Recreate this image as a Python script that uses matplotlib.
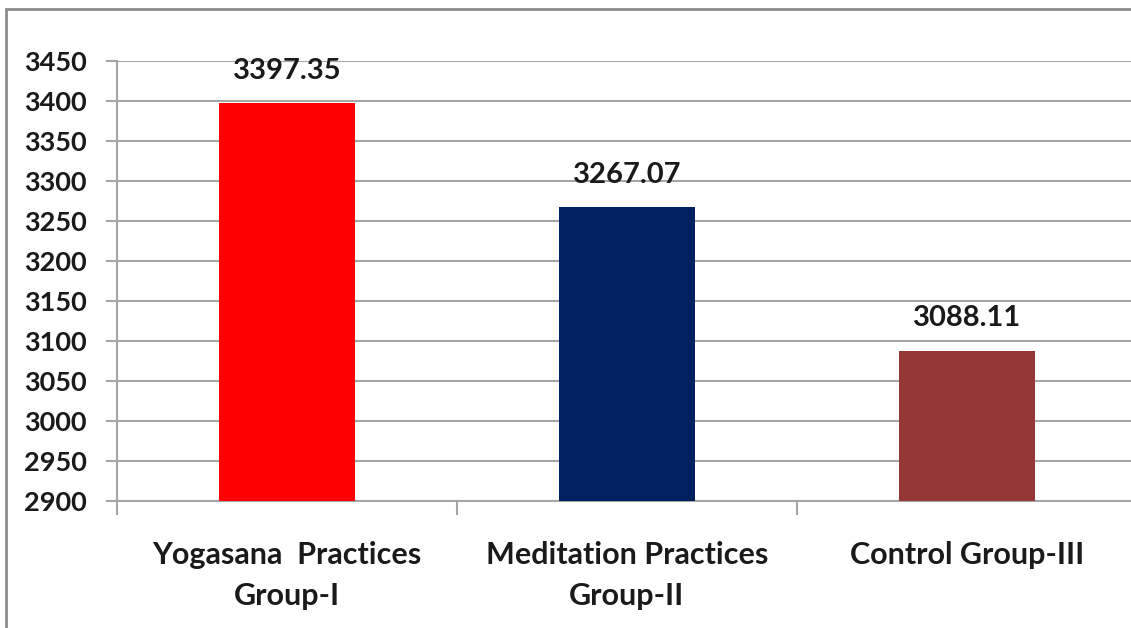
import matplotlib
matplotlib.use('Agg')
import matplotlib.pyplot as plt
from matplotlib.patches import Rectangle

categories = ['Yogasana  Practices\nGroup-I', 'Meditation Practices\nGroup-II', 'Control Group-III']
values = [3397.35, 3267.07, 3088.11]
value_labels = ['3397.35', '3267.07', '3088.11']
bar_colors = ['#FF0000', '#002060', '#953735']
y_ticks = list(range(2900, 3451, 50))

plt.rcParams['font.family'] = ['Lato', 'DejaVu Sans']

fig = plt.figure(figsize=(11.31, 6.28), dpi=100)
fig.patch.set_facecolor('white')

# outer chart border (cropped on right/bottom)
fig.patches.append(Rectangle((6 / 1131, -0.1), 1.2, (628 - 9) / 628 + 0.1,
                             transform=fig.transFigure, fill=False,
                             edgecolor='#8C8C8C', lw=2, zorder=0))

ax = fig.add_axes([117 / 1131, 127 / 628, 1020 / 1131, 440 / 628])
ax.set_xlim(-0.5, 2.5)
ax.set_ylim(2900, 3450)

x = range(len(values))
ax.bar(x, values, width=0.4, color=bar_colors, zorder=3)

for xi, v, lab in zip(x, values, value_labels):
    ax.annotate(lab, (xi, v), xytext=(0, 14), textcoords='offset points',
                ha='center', va='bottom', fontsize=21, fontweight='bold',
                color='#1A1A1A')

ax.set_yticks(y_ticks)
ax.set_yticklabels([str(t) for t in y_ticks], fontsize=19.5, fontweight='bold',
                   color='#1A1A1A')
ax.tick_params(axis='y', length=8, width=1.5, color='#A6A6A6', pad=14)
ax.yaxis.grid(True, color='#A6A6A6', lw=1.5, zorder=0)

ax.set_xticks(list(x))
ax.set_xticklabels(categories, fontsize=22, fontweight='bold', color='#1A1A1A',
                   linespacing=1.55)
ax.tick_params(axis='x', which='major', length=0, pad=29)
ax.set_xticks([-0.5, 0.5, 1.5, 2.5], minor=True)
ax.tick_params(axis='x', which='minor', length=10, width=1.5, color='#A6A6A6')

for s in ['top', 'right']:
    ax.spines[s].set_visible(False)
for s in ['left', 'bottom']:
    ax.spines[s].set_color('#A6A6A6')
    ax.spines[s].set_linewidth(1.5)
ax.set_axisbelow(True)

fig.savefig('out.png', dpi=100, facecolor='white')
